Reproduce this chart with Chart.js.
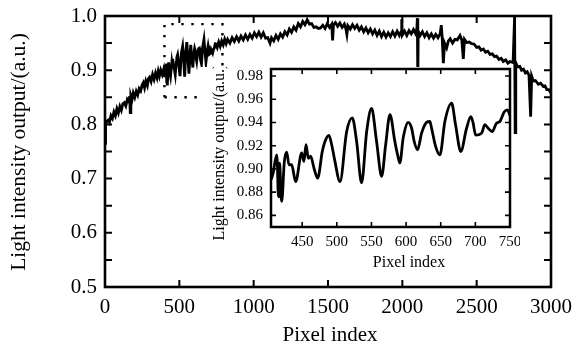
<!DOCTYPE html>
<html>
<head>
<meta charset="utf-8">
<script src="https://cdn.jsdelivr.net/npm/chart.js@4.4.1/dist/chart.umd.min.js"></script>
<style>
html, body { margin: 0; padding: 0; background: #fff; }
#wrap { position: relative; width: 577px; height: 348px; }
#main { position: absolute; left: 0; top: 0; }
#inset { position: absolute; left: 200px; top: 67px; }
</style>
</head>
<body>
<div id="wrap">
<canvas id="main" width="577" height="348"></canvas>
<canvas id="inset" width="320" height="209"></canvas>
</div>
<script>
// main curve, pixel 0 - 405
const leadX = [0, 4, 12, 22, 30, 40, 50, 60, 70, 80, 90, 100, 110, 120, 130, 140, 150, 160, 166, 170, 174, 182, 190, 200,
    210, 220, 230, 240, 250, 258, 266, 275, 285, 292, 300, 310, 320, 330, 340, 350, 358, 366, 375, 385, 395, 400, 403];
const leadY = [0.765, 0.800, 0.806, 0.808, 0.804, 0.816, 0.811, 0.823, 0.816, 0.829, 0.821, 0.833, 0.826, 0.838, 0.840,
    0.834, 0.846, 0.842, 0.852, 0.822, 0.853, 0.846, 0.858, 0.850, 0.861, 0.854, 0.866, 0.862, 0.873, 0.877, 0.868,
    0.880, 0.872, 0.884, 0.887, 0.879, 0.892, 0.883, 0.895, 0.886, 0.898, 0.889, 0.900, 0.892, 0.902, 0.890, 0.899];

// zoomed section, also used by the main curve
const insetX = [405.5, 408.3, 413.2, 414.2, 415.3, 416.5, 417.3, 418.4, 419.3, 420.5, 424.2, 427.7, 430.9, 434.8, 440.6,
    449.3, 452.6, 455.5, 458.9, 462.2, 467.0, 472.4, 479.0, 482.9, 488.7, 492.6, 497.3, 504.6, 514.2, 522.3, 528.6,
    535.8, 543.1, 550.2, 557.4, 564.7, 570.5, 576.7, 583.8, 587.8, 591.0, 595.8, 603.1, 608.0, 611.7, 616.6, 622.4,
    629.5, 634.3, 636.8, 642.6, 648.8, 656.0, 665.7, 671.4, 679.0, 687.3, 693.5, 696.8, 700.4, 709.0, 713.7, 718.5,
    724.3, 730.6, 735.4, 741.6, 746.5, 749.8];
const insetY = [0.891, 0.897, 0.912, 0.905, 0.880, 0.876, 0.905, 0.895, 0.878, 0.872, 0.906, 0.9145, 0.9036, 0.9036, 0.889,
    0.9137, 0.9065, 0.9208, 0.909, 0.911, 0.9008, 0.892, 0.915, 0.9236, 0.9288, 0.9208, 0.9065, 0.889, 0.9322, 0.944,
    0.9236, 0.888, 0.9322, 0.952, 0.9236, 0.8936, 0.9208, 0.9466, 0.9236, 0.912, 0.905, 0.9266, 0.940, 0.935, 0.9236,
    0.9165, 0.9308, 0.940, 0.9408, 0.935, 0.9194, 0.912, 0.9408, 0.9566, 0.938, 0.915, 0.935, 0.945, 0.9394, 0.929,
    0.9308, 0.938, 0.935, 0.9322, 0.9394, 0.9408, 0.949, 0.9508, 0.946];

// main curve, pixel 755 - 3000
const tailX = [755, 765, 775, 785, 795, 805, 815, 825, 840, 855, 870, 885, 900, 915, 930, 945, 960, 975, 990, 1005, 1020,
    1035, 1050, 1065, 1080, 1095, 1110, 1120, 1135, 1150, 1165, 1180, 1195, 1210, 1225, 1240, 1255, 1270, 1285, 1300,
    1315, 1330, 1345, 1360, 1375, 1390, 1405, 1420, 1435, 1450, 1465, 1480, 1495, 1510, 1525, 1531, 1537, 1550, 1565,
    1580, 1595, 1610, 1620, 1627, 1634, 1650, 1665, 1680, 1695, 1710, 1725, 1740, 1755, 1770, 1785, 1800, 1815, 1830,
    1845, 1860, 1875, 1890, 1905, 1920, 1935, 1950, 1965, 1980, 1992, 1996, 2000, 2015, 2030, 2045, 2060, 2075, 2088,
    2098, 2101, 2104, 2107, 2120, 2135, 2150, 2165, 2180, 2195, 2210, 2225, 2240, 2255, 2262, 2268, 2276, 2284, 2298,
    2310, 2322, 2338, 2354, 2370, 2388, 2400, 2410, 2418, 2433, 2450, 2466, 2483, 2500, 2515, 2530, 2545, 2560, 2575,
    2590, 2605, 2620, 2634, 2650, 2665, 2679, 2695, 2710, 2724, 2745, 2755, 2759, 2763, 2775, 2790, 2802, 2815, 2828,
    2840, 2852, 2863, 2870, 2881, 2895, 2915, 2930, 2948, 2960, 2972, 2985, 3000];
const tailY = [0.942, 0.952, 0.944, 0.954, 0.947, 0.957, 0.949, 0.957, 0.950, 0.960, 0.953, 0.962, 0.954, 0.963, 0.956,
    0.965, 0.957, 0.966, 0.959, 0.969, 0.962, 0.970, 0.961, 0.969, 0.959, 0.960, 0.950, 0.960, 0.954, 0.964, 0.957,
    0.967, 0.961, 0.971, 0.965, 0.976, 0.970, 0.980, 0.974, 0.986, 0.980, 0.990, 0.984, 0.993, 0.985, 0.986, 0.979,
    0.980, 0.977, 0.978, 0.983, 0.977, 0.986, 0.979, 0.985, 0.955, 0.984, 0.988, 0.981, 0.987, 0.979, 0.985, 0.977,
    0.966, 0.982, 0.976, 0.984, 0.977, 0.983, 0.974, 0.980, 0.971, 0.978, 0.969, 0.976, 0.967, 0.974, 0.964, 0.972,
    0.962, 0.970, 0.961, 0.969, 0.962, 0.971, 0.963, 0.972, 0.964, 0.971, 0.994, 0.965, 0.972, 0.964, 0.973, 0.967,
    0.975, 0.968, 0.977, 0.996, 0.880, 0.972, 0.964, 0.971, 0.962, 0.969, 0.960, 0.967, 0.959, 0.966, 0.960, 0.968,
    0.983, 0.960, 0.913, 0.950, 0.941, 0.954, 0.958, 0.950, 0.957, 0.956, 0.964, 0.956, 0.921, 0.957, 0.951, 0.952,
    0.949, 0.948, 0.942, 0.943, 0.937, 0.939, 0.933, 0.935, 0.929, 0.930, 0.925, 0.926, 0.920, 0.922, 0.916, 0.919,
    0.913, 0.916, 0.914, 0.998, 0.785, 0.914, 0.906, 0.907, 0.900, 0.902, 0.895, 0.897, 0.891, 0.814, 0.889, 0.880,
    0.881, 0.874, 0.876, 0.870, 0.871, 0.864, 0.864, 0.858];

// dotted box marking the zoomed section
const boxX = [400, 400, 790, 790, 400];
const boxY = [0.85, 0.985, 0.985, 0.85, 0.85];

const mainXTicks = [0, 500, 1000, 1500, 2000, 2500, 3000];
const mainYTicks = [0.5, 0.55, 0.6, 0.65, 0.7, 0.75, 0.8, 0.85, 0.9, 0.95, 1.0];
const insetXTicks = [450, 500, 550, 600, 650, 700, 750];
const insetYTicks = [0.86, 0.88, 0.90, 0.92, 0.94, 0.96, 0.98];

const xTitle = 'Pixel index';
const yTitle = 'Light intensity output/(a.u.)';

const serif = "'Liberation Serif', 'Times New Roman', serif";

function points(xs, ys) {
    return xs.map((x, i) => ({x: x, y: ys[i]}));
}

// inward ticks on all four sides, box frame and axis titles
const framePlugin = {
    id: 'frame',
    beforeDraw(chart, args, opts) {
        if (opts.whiteRight !== undefined) {
            const ctx = chart.ctx;
            ctx.save();
            ctx.fillStyle = '#fff';
            ctx.fillRect(0, 0, chart.chartArea.right + opts.whiteRight, chart.height);
            ctx.restore();
        }
    },
    afterDraw(chart, args, opts) {
        const ctx = chart.ctx;
        const a = chart.chartArea;
        const x = chart.scales.x;
        const y = chart.scales.y;
        ctx.save();
        ctx.strokeStyle = '#000';
        ctx.lineWidth = opts.tickWidth;
        ctx.beginPath();
        x.ticks.forEach(t => {
            const px = x.getPixelForValue(t.value);
            ctx.moveTo(px, a.bottom);
            ctx.lineTo(px, a.bottom - opts.tickLen);
            ctx.moveTo(px, a.top);
            ctx.lineTo(px, a.top + opts.tickLen);
        });
        y.ticks.forEach(t => {
            const py = y.getPixelForValue(t.value);
            ctx.moveTo(a.left, py);
            ctx.lineTo(a.left + opts.tickLen, py);
            ctx.moveTo(a.right, py);
            ctx.lineTo(a.right - opts.tickLen, py);
        });
        ctx.stroke();
        ctx.lineWidth = opts.border;
        ctx.strokeRect(a.left, a.top, a.right - a.left, a.bottom - a.top);
        ctx.fillStyle = '#000';
        ctx.textAlign = 'center';
        ctx.textBaseline = 'middle';
        ctx.font = opts.xFont;
        ctx.fillText(xTitle, opts.xTitleAt[0], opts.xTitleAt[1]);
        ctx.font = opts.yFont;
        ctx.translate(opts.yTitleAt[0], opts.yTitleAt[1]);
        ctx.rotate(-Math.PI / 2);
        ctx.fillText(yTitle, 0, 0);
        ctx.restore();
    }
};

function makeScales(xr, yr, xTicks, yTicks, size, yWidth, xHeight, xPad, yPad, yLabel) {
    return {
        x: {
            type: 'linear', min: xr[0], max: xr[1],
            grid: {display: false, drawTicks: false}, border: {display: false},
            afterBuildTicks: s => { s.ticks = xTicks.map(v => ({value: v})); },
            afterFit: s => { s.height = xHeight; s.paddingLeft = 0; s.paddingRight = 0; },
            ticks: {font: {family: serif, size: size}, color: '#000', padding: xPad, maxRotation: 0, autoSkip: false,
                    callback: v => String(v)}
        },
        y: {
            type: 'linear', min: yr[0], max: yr[1],
            grid: {display: false, drawTicks: false}, border: {display: false},
            afterBuildTicks: s => { s.ticks = yTicks.map(v => ({value: v})); },
            afterFit: s => { s.width = yWidth; s.paddingTop = 0; s.paddingBottom = 0; },
            ticks: {font: {family: serif, size: size}, color: '#000', padding: yPad, autoSkip: false, callback: yLabel}
        }
    };
}

const mainChart = new Chart(document.getElementById('main'), {
    type: 'line',
    data: {
        datasets: [
            {data: points(leadX.concat(insetX, tailX), leadY.concat(insetY, tailY)),
             borderColor: '#000', borderWidth: 2.8, pointRadius: 0, tension: 0},
            {data: points(boxX, boxY), borderColor: '#000', borderWidth: 2.4, borderDash: [2.4, 7.6],
             borderCapStyle: 'butt', pointRadius: 0, tension: 0}
        ]
    },
    options: {
        responsive: false,
        animation: false,
        layout: {padding: {left: 0, top: 16, right: 26, bottom: 0}},
        scales: makeScales([0, 3000], [0.5, 1.0], mainXTicks, mainYTicks, 21, 105, 61, 8, 8,
            v => Math.round(v * 100) % 10 === 0 ? v.toFixed(1) : ''),
        plugins: {
            legend: {display: false},
            tooltip: {enabled: false},
            frame: {tickLen: 7, tickWidth: 2, border: 2.6,
                    xFont: '21px ' + serif, yFont: '21.5px ' + serif,
                    xTitleAt: [330, 335], yTitleAt: [19, 152]}
        }
    },
    plugins: [framePlugin]
});

const insetChart = new Chart(document.getElementById('inset'), {
    type: 'line',
    data: {
        datasets: [
            {data: points(insetX, insetY), borderColor: '#000', borderWidth: 2.8, pointRadius: 0,
             cubicInterpolationMode: 'monotone'}
        ]
    },
    options: {
        responsive: false,
        animation: false,
        layout: {padding: {left: 0, top: 2, right: 10, bottom: 0}},
        scales: makeScales([405, 750], [0.85, 0.986], insetXTicks, insetYTicks, 15, 71, 49, 6, 8,
            v => v.toFixed(2)),
        plugins: {
            legend: {display: false},
            tooltip: {enabled: false},
            frame: {tickLen: 5, tickWidth: 1.6, border: 2.5, whiteRight: 1.5,
                    xFont: '16px ' + serif, yFont: '16px ' + serif,
                    xTitleAt: [209, 196], yTitleAt: [20, 85]}
        }
    },
    plugins: [framePlugin]
});
</script>
</body>
</html>
